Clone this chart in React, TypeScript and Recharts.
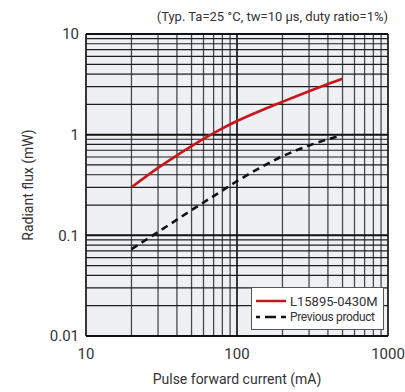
import {
  CartesianGrid,
  Label,
  Line,
  LineChart,
  ReferenceLine,
  XAxis,
  YAxis,
} from "recharts";

const FONT = "Roboto, 'Noto Sans', sans-serif";
const TEXT = "#333";
const RED = "#c8161d";

// Pulse forward current (mA)
const current = [20, 30, 40, 50, 60, 70, 100, 150, 200, 300, 400, 500];
// Radiant flux (mW)
const fluxNew = [0.3, 0.468, 0.624, 0.771, 0.908, 1.035, 1.366, 1.78, 2.12, 2.7, 3.18, 3.6];
const fluxPrevious = [0.073, 0.108, 0.143, 0.178, 0.212, 0.245, 0.345, 0.49, 0.61, 0.78, 0.9, 0.99];

const xTicks = [10, 100, 1000];
const yTicks = [0.01, 0.1, 1, 10];
const xMinor = [20, 30, 40, 50, 60, 70, 80, 90, 200, 300, 400, 500, 600, 700, 800, 900];
const yMinor = [
  0.02, 0.03, 0.04, 0.05, 0.06, 0.07, 0.08, 0.09,
  0.2, 0.3, 0.4, 0.5, 0.6, 0.7, 0.8, 0.9,
  2, 3, 4, 5, 6, 7, 8, 9,
];

const data = current.map((mA, i) => ({
  mA,
  l15895: fluxNew[i],
  previous: fluxPrevious[i],
}));

function LegendBox() {
  return (
    <div
      style={{
        position: "absolute",
        left: 251,
        top: 287,
        background: "#fff",
        border: "1px solid #555",
        width: 133,
        height: 43,
        boxSizing: "border-box",
        padding: "5px 0 0 4px",
        fontFamily: FONT,
        color: TEXT,
      }}
    >
      <div style={{ display: "flex", alignItems: "center", height: 16 }}>
        <svg width={31} height={6}>
          <line x1={0} y1={3} x2={30} y2={3} stroke={RED} strokeWidth={2.5} />
        </svg>
        <span style={{ fontSize: 13, marginLeft: 3 }}>L15895-0430M</span>
      </div>
      <div style={{ display: "flex", alignItems: "center", height: 16 }}>
        <svg width={31} height={6}>
          <line
            x1={0}
            y1={3}
            x2={30}
            y2={3}
            stroke="#111"
            strokeWidth={2.5}
            strokeDasharray="4 5 11 5 5"
          />
        </svg>
        <span style={{ fontSize: 12, marginLeft: 3, letterSpacing: -0.35 }}>
          Previous product
        </span>
      </div>
    </div>
  );
}

export default function App() {
  return (
    <div style={{ position: "absolute", left: 0, top: 0, width: 405, height: 392, background: "#fff" }}>
      <div
        style={{
          position: "absolute",
          right: 17,
          top: 9,
          fontFamily: FONT,
          fontSize: 13,
          color: TEXT,
          whiteSpace: "nowrap",
        }}
      >
        (Typ. Ta=25 °C, tw=10 μs, duty ratio=1%)
      </div>
      <LineChart width={405} height={392} data={data} margin={{ top: 34, right: 17, left: 0, bottom: 0 }}>
        <CartesianGrid fill="#eff0f3" stroke="none" />
        <XAxis
          dataKey="mA"
          type="number"
          scale="log"
          domain={[10, 1000]}
          ticks={xTicks}
          allowDataOverflow
          axisLine={false}
          tickLine={false}
          tickSize={0}
          tickMargin={12}
          height={56}
          tick={{ fontSize: 15, fill: TEXT, fontFamily: FONT }}
        >
          <Label
            content={({ viewBox }: any) => (
              <text
                x={viewBox.x + viewBox.width / 2}
                y={viewBox.y + 48}
                textAnchor="middle"
                fontSize={14}
                fill={TEXT}
                fontFamily={FONT}
              >
                Pulse forward current (mA)
              </text>
            )}
          />
        </XAxis>
        <YAxis
          type="number"
          scale="log"
          domain={[0.01, 10]}
          ticks={yTicks}
          allowDataOverflow
          axisLine={false}
          tickLine={false}
          tickSize={0}
          tickMargin={7}
          width={86}
          tick={{ fontSize: 15, fill: TEXT, fontFamily: FONT }}
        >
          <Label
            content={({ viewBox }: any) => {
              const cx = viewBox.x + 28;
              const cy = viewBox.y + viewBox.height / 2;
              return (
                <text
                  x={cx}
                  y={cy}
                  transform={`rotate(-90 ${cx} ${cy})`}
                  textAnchor="middle"
                  dominantBaseline="central"
                  fontSize={14}
                  fill={TEXT}
                  fontFamily={FONT}
                >
                  Radiant flux (mW)
                </text>
              );
            }}
          />
        </YAxis>
        {xMinor.map((v) => (
          <ReferenceLine key={`x${v}`} x={v} stroke="#4a4a4a" strokeWidth={1.3} />
        ))}
        {yMinor.map((v) => (
          <ReferenceLine key={`y${v}`} y={v} stroke="#1e1e1e" strokeWidth={1.2} />
        ))}
        {xTicks.map((v) => (
          <ReferenceLine key={`X${v}`} x={v} stroke="#222" strokeWidth={1.8} />
        ))}
        {yTicks.map((v) => (
          <ReferenceLine key={`Y${v}`} y={v} stroke="#111" strokeWidth={2} />
        ))}
        <Line
          dataKey="l15895"
          type="monotone"
          stroke={RED}
          strokeWidth={2.6}
          dot={false}
          isAnimationActive={false}
        />
        <Line
          dataKey="previous"
          type="monotone"
          stroke="#111"
          strokeWidth={2.6}
          strokeDasharray="7 5"
          dot={false}
          isAnimationActive={false}
        />
      </LineChart>
      <LegendBox />
    </div>
  );
}
